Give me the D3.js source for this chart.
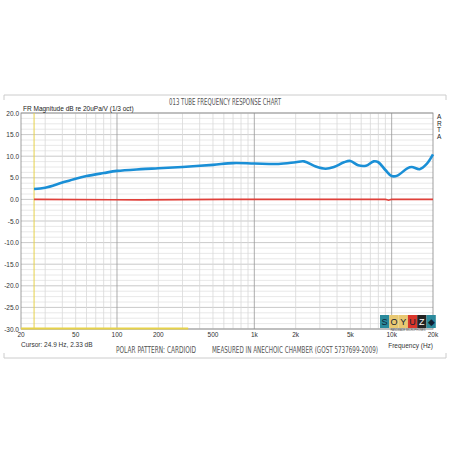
<!DOCTYPE html>
<html><head><meta charset="utf-8">
<script src="https://cdn.jsdelivr.net/npm/d3@7"></script>
<style>body{margin:0;background:#fff}</style></head>
<body><svg id="c" width="450" height="450"></svg>
<script>
// response curve
const freqs = [24.9, 30, 40, 50, 60, 80, 100, 150, 200, 300, 500, 700, 1000, 1500, 2000, 2300, 2800, 3300, 3800, 4500, 5000, 5700, 6500, 7400, 8000, 9000, 10000, 11000, 13000, 14000, 16000, 18000, 20000];
const magnitude = [2.4, 2.7, 3.9, 4.8, 5.4, 6.1, 6.6, 7.0, 7.2, 7.5, 8.0, 8.4, 8.3, 8.2, 8.6, 8.8, 7.6, 7.1, 7.5, 8.6, 8.9, 7.9, 7.8, 8.8, 8.6, 6.8, 5.4, 5.5, 7.2, 7.5, 7.0, 8.2, 10.4];
const phaseFreqs = [24.9, 150, 600, 9000, 9500, 10000, 20000];
const phase = [0, -0.1, 0, 0, -0.2, 0, 0];
const yTicks = [20, 15, 10, 5, 0, -5, -10, -15, -20, -25, -30];
const xTicks = [20, 50, 100, 200, 500, 1000, 2000, 5000, 10000, 20000];
const xLabels = ["20", "50", "100", "200", "500", "1k", "2k", "5k", "10k", "20k"];
const cursorFreq = 24.9;

const svg = d3.select("#c");
const x = d3.scaleLog().domain([20, 20000]).range([21, 433]);
const y = d3.scaleLinear().domain([-30, 20]).range([329, 113]);
const font = "Liberation Sans, Arial, sans-serif";

// frame brackets
svg.append("path").attr("d", "M4,100V95H446V100").attr("fill", "none").attr("stroke", "#ccc");
svg.append("path").attr("d", "M4,353V358H446V353").attr("fill", "none").attr("stroke", "#ccc");

// minor grid
const minorY = d3.range(-30, 20.01, 1.25);
svg.append("g").selectAll("line").data(minorY).join("line")
  .attr("x1", 21).attr("x2", 433).attr("y1", d => y(d)).attr("y2", d => y(d))
  .attr("stroke", d => d % 5 === 0 ? "#bbb" : "#e2e2e2").attr("stroke-width", 0.8);
const minorX = [];
for (let dec = 10; dec <= 10000; dec *= 10)
  for (let m = 1; m <= 9; m++) { const f = dec * m; if (f > 20 && f < 20000) minorX.push(f); }
svg.append("g").selectAll("line").data(minorX).join("line")
  .attr("x1", d => x(d)).attr("x2", d => x(d)).attr("y1", 113).attr("y2", 329)
  .attr("stroke", d => [100, 1000, 10000].includes(d) ? "#999" : "#d8d8d8").attr("stroke-width", 0.8);
svg.append("rect").attr("x", 21).attr("y", 113).attr("width", 412).attr("height", 216)
  .attr("fill", "none").attr("stroke", "#888").attr("stroke-width", 0.8);

// axes labels
svg.append("g").selectAll("text").data(yTicks).join("text")
  .attr("x", 19).attr("y", d => y(d) + 2.5).attr("text-anchor", "end")
  .attr("font-family", font).attr("font-size", 6.5).attr("fill", "#333")
  .text(d => d.toFixed(1));
svg.append("g").selectAll("text").data(xTicks).join("text")
  .attr("x", d => x(d)).attr("y", 337).attr("text-anchor", "middle")
  .attr("font-family", font).attr("font-size", 6.5).attr("fill", "#333")
  .text((d, i) => xLabels[i]);

// cursor
svg.append("line").attr("x1", x(cursorFreq)).attr("x2", x(cursorFreq)).attr("y1", 113).attr("y2", 329)
  .attr("stroke", "#e6d24a").attr("stroke-width", 1);
svg.append("line").attr("x1", 21).attr("x2", x(330)).attr("y1", 328.5).attr("y2", 328.5)
  .attr("stroke", "#e6d24a").attr("stroke-width", 2);

// curves
const line = d3.line().x(d => x(d[0])).y(d => y(d[1])).curve(d3.curveMonotoneX);
svg.append("path").attr("d", line(d3.zip(phaseFreqs, phase)))
  .attr("fill", "none").attr("stroke", "#e0403a").attr("stroke-width", 1.6);
svg.append("path").attr("d", d3.line().x(d => x(d[0])).y(d => y(d[1])).curve(d3.curveCatmullRom)(d3.zip(freqs, magnitude)))
  .attr("fill", "none").attr("stroke", "#1a8fd6").attr("stroke-width", 2.6);

// texts
const t = (xx, yy, s, size, anchor, fam, fill) => svg.append("text").attr("x", xx).attr("y", yy)
  .attr("text-anchor", anchor || "start").attr("font-family", fam || font).attr("font-size", size)
  .attr("fill", fill || "#222").text(s);
t(225, 105, "013 TUBE FREQUENCY RESPONSE CHART", 8, "middle", "DejaVu Sans Condensed", "#555")
  .attr("textLength", 112).attr("lengthAdjust", "spacingAndGlyphs");
t(23, 111, "FR Magnitude dB re 20uPa/V (1/3 oct)", 6.5);
["A", "R", "T", "A"].forEach((c, i) => t(437, 119 + i * 6.5, c, 6.5));
t(21, 347, "Cursor: 24.9 Hz, 2.33 dB", 6.5, "start", font, "#333");
t(433, 347.5, "Frequency (Hz)", 6.5, "end", font, "#333");
t(116, 353, "POLAR PATTERN: CARDIOID", 8, "start", "DejaVu Sans Condensed", "#555")
  .attr("textLength", 80).attr("lengthAdjust", "spacingAndGlyphs");
t(212, 353, "MEASURED IN ANECHOIC CHAMBER (GOST 5737699-2009)", 8, "start", "DejaVu Sans Condensed", "#555")
  .attr("textLength", 166).attr("lengthAdjust", "spacingAndGlyphs");

// logo
const logo = ["S", "O", "Y", "U", "Z", "◆"];
const logoCol = ["#2b8a9c", "#e8c872", "#e8c872", "#d9362b", "#222", "#2b8a9c"];
logo.forEach((c, i) => {
  svg.append("rect").attr("x", 380 + i * 9.3).attr("y", 315).attr("width", 9.3).attr("height", 13).attr("fill", logoCol[i]);
  t(384.6 + i * 9.3, 325, c, 9, "middle", font, i === 4 ? "#fff" : "#123");
});
t(408, 331, "HANDMADE MICROPHONES", 2.6, "middle", font, "#555");
</script></body></html>
